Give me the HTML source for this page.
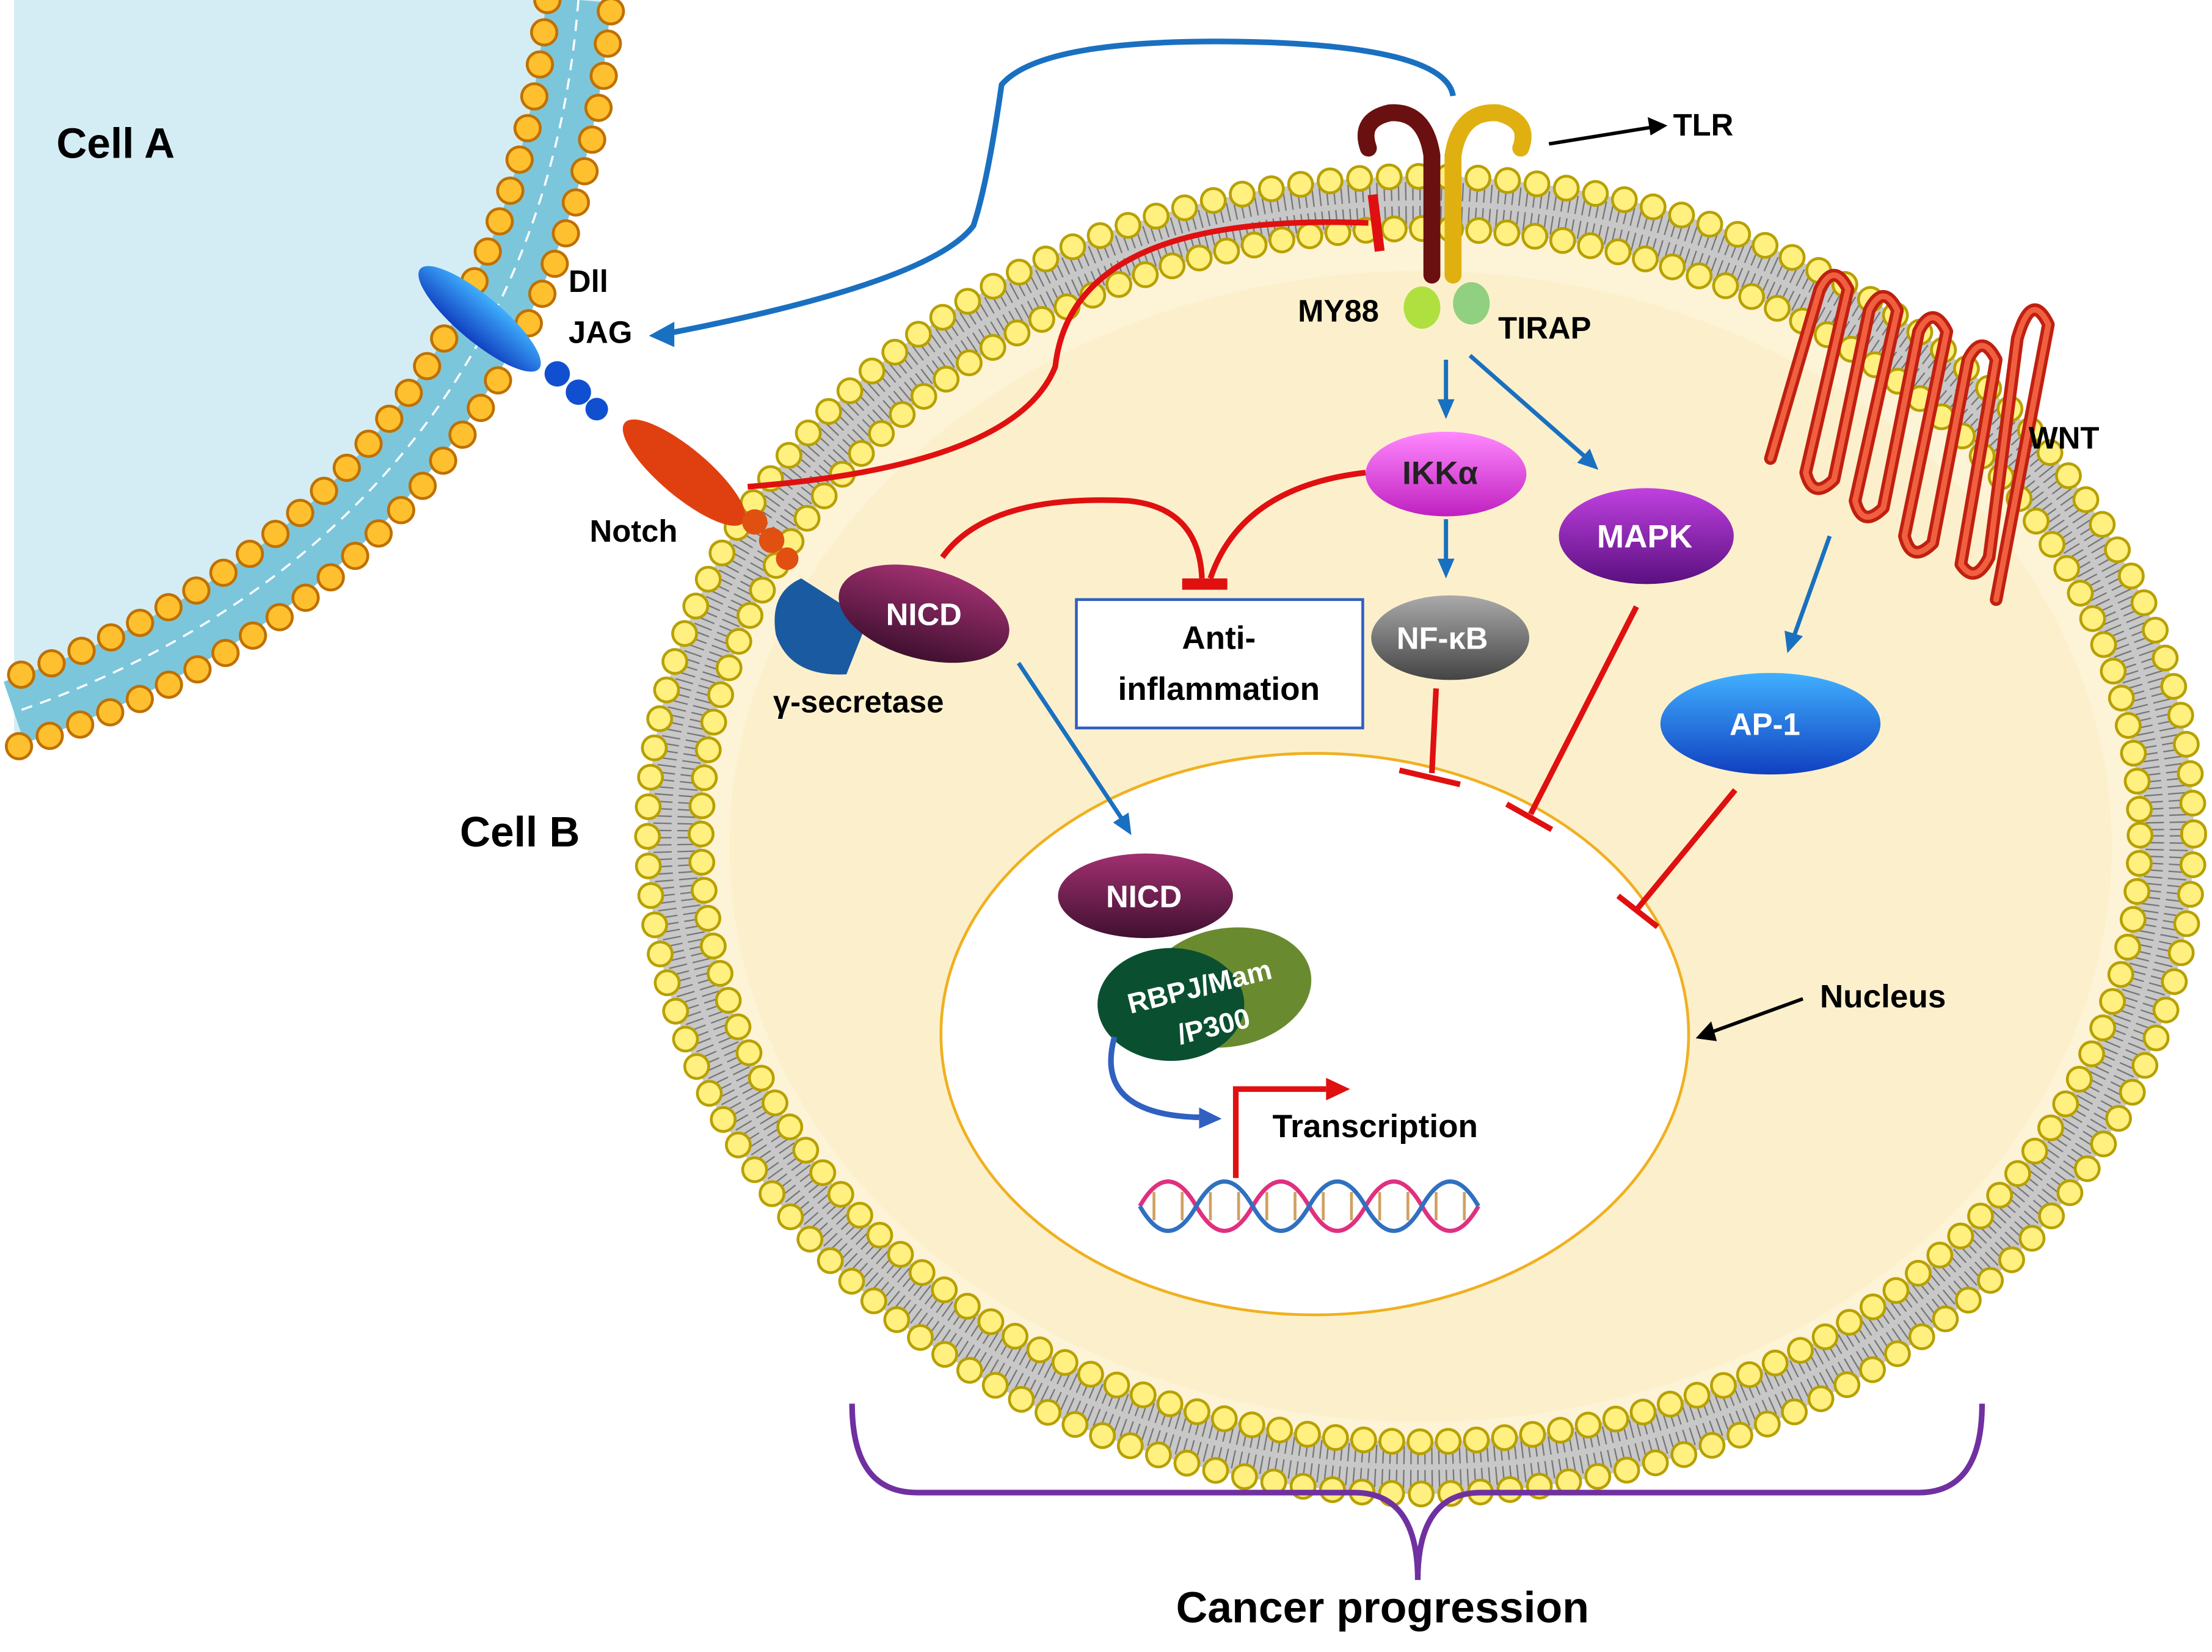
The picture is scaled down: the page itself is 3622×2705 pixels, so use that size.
<!DOCTYPE html>
<html><head><meta charset="utf-8"><style>
html,body{margin:0;padding:0;background:#fff}
svg{display:block}
text{font-family:"Liberation Sans",sans-serif;font-weight:bold}
</style></head><body>
<svg width="3622" height="2705" viewBox="0 0 1568 1171" xmlns="http://www.w3.org/2000/svg">
<defs>
<linearGradient id="pink" x1="0" y1="0" x2="0" y2="1"><stop offset="0" stop-color="#ff88ff"/><stop offset="1" stop-color="#c020c0"/></linearGradient>
<linearGradient id="purp" x1="0" y1="0" x2="0" y2="1"><stop offset="0" stop-color="#c040e0"/><stop offset="1" stop-color="#5a1080"/></linearGradient>
<linearGradient id="gray" x1="0" y1="0" x2="0" y2="1"><stop offset="0" stop-color="#aaa"/><stop offset="1" stop-color="#444"/></linearGradient>
<linearGradient id="blue" x1="0" y1="0" x2="0" y2="1"><stop offset="0" stop-color="#40b0ff"/><stop offset="1" stop-color="#1040c0"/></linearGradient>
<linearGradient id="nicd" x1="0" y1="0" x2="0" y2="1"><stop offset="0" stop-color="#a03070"/><stop offset="1" stop-color="#401030"/></linearGradient>
</defs>
<rect width="1568" height="1171" fill="#fff"/>
<!-- Cell A -->
<path d="M10,0 L430,0 C410,260 240,440 10,530 Z" fill="#d4edf4"/>
<path d="M410,0 C390,260 230,430 10,505" fill="none" stroke="#7cc6dc" stroke-width="46"/>
<path d="M410,0 C390,260 230,430 10,505" fill="none" stroke="#fff" stroke-width="1.5" stroke-dasharray="8 6"/>
<path d="M433,8 C413,270 250,455 10,530" fill="none" stroke="#c07000" stroke-width="20" stroke-linecap="round" stroke-dasharray="0 23"/>
<path d="M433,8 C413,270 250,455 10,530" fill="none" stroke="#ffc030" stroke-width="16" stroke-linecap="round" stroke-dasharray="0 23"/>
<path d="M388,0 C368,250 212,410 10,480" fill="none" stroke="#c07000" stroke-width="20" stroke-linecap="round" stroke-dasharray="0 23"/>
<path d="M388,0 C368,250 212,410 10,480" fill="none" stroke="#ffc030" stroke-width="16" stroke-linecap="round" stroke-dasharray="0 23"/>
<text x="40" y="112" font-size="30">Cell A</text>
<!-- Cell B -->
<ellipse cx="1007" cy="592" rx="548" ry="467" fill="#c8c8c8"/>
<ellipse cx="1007" cy="592" rx="529" ry="448" fill="none" stroke="#777" stroke-width="30" stroke-dasharray="1 4"/>
<ellipse cx="1007" cy="592" rx="529" ry="448" fill="none" stroke="#c8c8c8" stroke-width="4"/>
<ellipse cx="1007" cy="592" rx="548" ry="467" fill="none" stroke="#b8a000" stroke-width="19" stroke-linecap="round" stroke-dasharray="0 21"/>
<ellipse cx="1007" cy="592" rx="548" ry="467" fill="none" stroke="#fff080" stroke-width="15" stroke-linecap="round" stroke-dasharray="0 21"/>
<ellipse cx="1007" cy="592" rx="510" ry="430" fill="#fdf3d6"/>
<ellipse cx="1007" cy="592" rx="510" ry="430" fill="none" stroke="#b8a000" stroke-width="19" stroke-linecap="round" stroke-dasharray="0 20"/>
<ellipse cx="1007" cy="592" rx="510" ry="430" fill="none" stroke="#fff080" stroke-width="15" stroke-linecap="round" stroke-dasharray="0 20"/>
<ellipse cx="1007" cy="600" rx="490" ry="408" fill="#fcf0cc"/>
<text x="326" y="600" font-size="30">Cell B</text>
<!-- Nucleus -->
<ellipse cx="932" cy="733" rx="265" ry="199" fill="#fff" stroke="#f0b020" stroke-width="2"/>
<!-- Notch ligand -->
<ellipse cx="340" cy="226" rx="55" ry="16" transform="rotate(40 340 226)" fill="url(#blue)"/>
<circle cx="395" cy="265" r="9" fill="#1050d0"/><circle cx="410" cy="278" r="9" fill="#1050d0"/><circle cx="423" cy="290" r="8" fill="#1050d0"/>
<ellipse cx="485" cy="335" rx="55" ry="17" transform="rotate(40 485 335)" fill="#e04010"/>
<circle cx="535" cy="370" r="9" fill="#e05010"/><circle cx="547" cy="383" r="9" fill="#e05010"/><circle cx="558" cy="396" r="8" fill="#e05010"/>
<path d="M568,410 Q545,420 550,450 Q560,480 600,478 L615,440 Z" fill="#1a5aa0"/>
<ellipse cx="655" cy="435" rx="62" ry="32" transform="rotate(15 655 435)" fill="url(#nicd)"/>
<text x="628" y="443" font-size="22" fill="#fff">NICD</text>
<text x="403" y="207" font-size="22">Dll</text>
<text x="403" y="243" font-size="22">JAG</text>
<text x="418" y="384" font-size="22">Notch</text>
<text x="548" y="505" font-size="22">γ-secretase</text>
<!-- TLR -->
<path d="M1015,195 L1015,110 Q1010,78 985,80 Q963,85 970,105" fill="none" stroke="#6a1010" stroke-width="12" stroke-linecap="round"/>
<path d="M1030,195 L1030,110 Q1035,78 1062,80 Q1085,86 1078,105" fill="none" stroke="#e0b010" stroke-width="12" stroke-linecap="round"/>
<ellipse cx="1008" cy="218" rx="13" ry="15" fill="#b0e040"/>
<ellipse cx="1043" cy="215" rx="13" ry="15" fill="#90d080"/>
<text x="920" y="228" font-size="22">MY88</text>
<text x="1062" y="240" font-size="22">TIRAP</text>
<line x1="1098" y1="102" x2="1172" y2="90" stroke="#000" stroke-width="2.5"/>
<polygon points="1182,89 1168,83 1170,96" fill="#000"/>
<text x="1186" y="96" font-size="22">TLR</text>
<!-- blue loop to JAG -->
<path d="M1030,68 Q1025,35 900,30 Q740,25 710,60 Q700,130 690,160 Q660,200 475,236" fill="none" stroke="#1a70c0" stroke-width="4"/>
<polygon points="460,238 478,228 478,246" fill="#1a70c0"/>
<!-- red inhibition from Notch to TLR -->
<path d="M530,345 Q720,330 748,260 Q760,150 970,158" fill="none" stroke="#e01010" stroke-width="4"/>
<line x1="973" y1="138" x2="978" y2="178" stroke="#e01010" stroke-width="7"/>
<!-- WNT -->
<g stroke-linecap="round" stroke-linejoin="round" fill="none">
<path d="M1255,325 L1290,205 Q1300,185 1310,205 L1280,335 Q1285,355 1300,340 L1325,220 Q1335,200 1345,220 L1315,355 Q1320,375 1335,360 L1360,235 Q1370,215 1380,235 L1350,380 Q1355,400 1370,385 L1395,255 Q1405,235 1415,255 L1390,400 Q1400,415 1410,395 L1430,240 Q1440,205 1452,230 L1415,425" stroke="#c02010" stroke-width="9"/>
<path d="M1255,325 L1290,205 Q1300,185 1310,205 L1280,335 Q1285,355 1300,340 L1325,220 Q1335,200 1345,220 L1315,355 Q1320,375 1335,360 L1360,235 Q1370,215 1380,235 L1350,380 Q1355,400 1370,385 L1395,255 Q1405,235 1415,255 L1390,400 Q1400,415 1410,395 L1430,240 Q1440,205 1452,230 L1415,425" stroke="#f06040" stroke-width="4"/>
</g>
<text x="1438" y="318" font-size="22">WNT</text>
<!-- signaling arrows -->
<g stroke="#1a70c0" stroke-width="3" fill="#1a70c0">
<line x1="1025" y1="255" x2="1025" y2="285"/><polygon points="1019,283 1031,283 1025,297" stroke="none"/>
<line x1="1042" y1="252" x2="1125" y2="325"/><polygon points="1133,333 1118,328 1127,318" stroke="none"/>
<line x1="1025" y1="368" x2="1025" y2="398"/><polygon points="1019,396 1031,396 1025,410" stroke="none"/>
<line x1="1297" y1="380" x2="1272" y2="450"/><polygon points="1267,463 1265,447 1278,451" stroke="none"/>
<line x1="722" y1="470" x2="795" y2="580"/><polygon points="802,592 789,583 800,576" stroke="none"/>
</g>
<!-- nodes -->
<ellipse cx="1025" cy="336" rx="57" ry="30" fill="url(#pink)"/>
<text x="994" y="343" font-size="23" fill="#222">IKKα</text>
<ellipse cx="1167" cy="380" rx="62" ry="34" fill="url(#purp)"/>
<text x="1132" y="388" font-size="23" fill="#fff">MAPK</text>
<ellipse cx="1028" cy="452" rx="56" ry="30" fill="url(#gray)"/>
<text x="990" y="460" font-size="22" fill="#fff">NF-κB</text>
<ellipse cx="1255" cy="513" rx="78" ry="36" fill="url(#blue)"/>
<text x="1226" y="521" font-size="22" fill="#fff">AP-1</text>
<!-- anti-inflammation -->
<path d="M668,395 Q700,350 800,355 Q850,360 852,410" fill="none" stroke="#e01010" stroke-width="4"/>
<path d="M968,335 Q880,345 858,410" fill="none" stroke="#e01010" stroke-width="4"/>
<line x1="838" y1="414" x2="870" y2="414" stroke="#e01010" stroke-width="8"/>
<rect x="763" y="425" width="203" height="91" fill="#fff" stroke="#3060c0" stroke-width="2"/>
<text x="864" y="460" font-size="23" text-anchor="middle">Anti-</text>
<text x="864" y="496" font-size="23" text-anchor="middle">inflammation</text>
<!-- inhibitions to nucleus -->
<g stroke="#e01010" stroke-width="4" fill="none">
<path d="M1018,488 L1015,548"/><line x1="992" y1="546" x2="1035" y2="556"/>
<line x1="1160" y1="430" x2="1085" y2="577"/><line x1="1068" y1="570" x2="1100" y2="588"/>
<line x1="1230" y1="560" x2="1160" y2="645"/><line x1="1147" y1="635" x2="1175" y2="657"/>
</g>
<!-- nucleus contents -->
<ellipse cx="870" cy="700" rx="60" ry="42" transform="rotate(-10 870 700)" fill="#6a8a30"/>
<ellipse cx="830" cy="712" rx="52" ry="40" fill="#0a5030"/>
<ellipse cx="812" cy="635" rx="62" ry="30" fill="url(#nicd)"/>
<text x="784" y="643" font-size="22" fill="#fff">NICD</text>
<text x="852" y="706" font-size="20" fill="#fff" text-anchor="middle" transform="rotate(-14 852 706)">RBPJ/Mam</text>
<text x="862" y="734" font-size="20" fill="#fff" text-anchor="middle" transform="rotate(-14 862 734)">/P300</text>
<path d="M790,735 Q775,790 850,792" fill="none" stroke="#3060c0" stroke-width="4"/>
<polygon points="866,793 850,785 850,800" fill="#3060c0"/>
<path d="M876,835 L876,772 L940,772" fill="none" stroke="#e01010" stroke-width="4"/>
<polygon points="957,772 940,764 940,780" fill="#e01010"/>
<text x="902" y="806" font-size="23">Transcription</text>
<g fill="none" stroke-width="3">
<path d="M808,855 Q828,820 848,855 T888,855 T928,855 T968,855 T1008,855 T1048,855" stroke="#e03080"/>
<path d="M808,855 Q828,890 848,855 T888,855 T928,855 T968,855 T1008,855 T1048,855" stroke="#3070c0"/>
<path d="M818,845 L818,865 M838,845 L838,865 M858,845 L858,865 M878,845 L878,865 M898,845 L898,865 M918,845 L918,865 M938,845 L938,865 M958,845 L958,865 M978,845 L978,865 M998,845 L998,865 M1018,845 L1018,865 M1038,845 L1038,865" stroke="#d0a060" stroke-width="2"/>
</g>
<line x1="1278" y1="708" x2="1212" y2="732" stroke="#000" stroke-width="2.5"/>
<polygon points="1202,736 1213,724 1217,738" fill="#000"/>
<text x="1290" y="714" font-size="23">Nucleus</text>
<!-- brace -->
<path d="M604,995 Q604,1058 650,1058 L960,1058 Q1005,1058 1005,1120 Q1005,1058 1050,1058 L1360,1058 Q1405,1058 1405,995" fill="none" stroke="#7030a0" stroke-width="4"/>
<text x="980" y="1150" font-size="31" text-anchor="middle">Cancer progression</text>
</svg>
</body></html>
